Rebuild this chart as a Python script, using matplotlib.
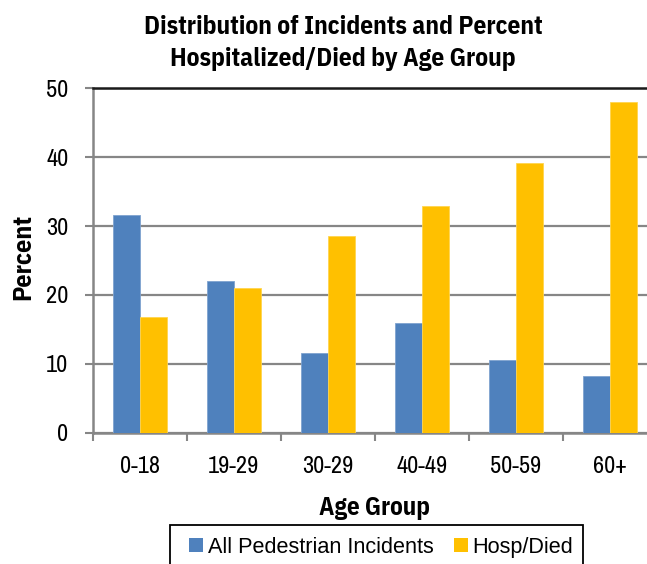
import matplotlib
matplotlib.use("Agg")
import matplotlib.pyplot as plt
from matplotlib.patches import Patch, Rectangle

NARROW = ["Archivo Narrow", "Liberation Sans", "DejaVu Sans"]
NARROW_BOLD = ["IBM Plex Sans Condensed", "Liberation Sans", "DejaVu Sans"]
PLAIN = ["Liberation Sans", "DejaVu Sans"]
plt.rcParams["font.family"] = NARROW

age_groups = ["0-18", "19-29", "30-29", "40-49", "50-59", "60+"]
all_incidents = [31.6, 22.0, 11.5, 15.9, 10.5, 8.2]
hosp_died = [16.8, 21.0, 28.6, 32.9, 39.1, 48.0]
series_names = ["All Pedestrian Incidents", "Hosp/Died"]
y_ticks = [0, 10, 20, 30, 40, 50]
title_lines = ["Distribution of Incidents and Percent", "Hospitalized/Died by Age Group"]

blue = "#4F81BD"
gold = "#FFC000"
grid_gray = "#868686"

W, H = 647, 564
fig = plt.figure(figsize=(W / 100, H / 100), dpi=100)


def fx(px):
    return px / W


def fy(py):
    return 1 - py / H


# plot area (runs a little past the right edge of the canvas)
left, right, top, bottom = 92.7, 656.7, 88.3, 432.7
ax = fig.add_axes([fx(left), fy(bottom), (right - left) / W, (bottom - top) / H])

x = list(range(len(age_groups)))
w = 0.287
ax.bar([i - w / 2 for i in x], all_incidents, width=w, color=blue,
       edgecolor="#7FA3CF", linewidth=0.6, zorder=3)
ax.bar([i + w / 2 for i in x], hosp_died, width=w, color=gold,
       edgecolor="#FFD54F", linewidth=0.6, zorder=3)

ax.set_xlim(-0.5, len(age_groups) - 0.5)
ax.set_ylim(0, 50)
ax.set_yticks(y_ticks)
ax.set_yticklabels([str(v) for v in y_ticks], fontsize=17.5)
ax.set_xticks(x)
ax.set_xticklabels(age_groups, fontsize=17.5)
ax.set_xticks([i - 0.5 for i in range(len(age_groups) + 1)], minor=True)

ax.tick_params(axis="x", which="major", length=0, pad=17)
ax.tick_params(axis="x", which="minor", length=5.5, width=1.5, color=grid_gray, direction="out")
ax.tick_params(axis="y", which="major", length=5.5, width=1.5, color=grid_gray,
               direction="out", pad=12)

ax.grid(axis="y", color=grid_gray, linewidth=1.6, zorder=0)
ax.set_axisbelow(True)
for s in ["left", "bottom"]:
    ax.spines[s].set_color(grid_gray)
    ax.spines[s].set_linewidth(1.8)
ax.spines["right"].set_visible(False)
ax.spines["top"].set_color("#1a1a1a")
ax.spines["top"].set_linewidth(1.8)

ax.set_ylabel("Percent", fontsize=18.7, fontweight="bold", family=NARROW_BOLD)
ax.yaxis.set_label_coords((35 - left) / (right - left), 0.51)
ax.set_xlabel("Age Group", fontsize=18, fontweight="bold", family=NARROW_BOLD,
              va="baseline")
ax.xaxis.set_label_coords(0.5, -(515 - bottom) / (bottom - top))

for line, base in zip(title_lines, [34, 66]):
    fig.text(fx(343), fy(base), line, ha="center", va="baseline",
             fontsize=18.3, fontweight="bold", family=NARROW_BOLD)

# legend box, open at the bottom of the canvas
fig.add_artist(Rectangle((fx(170), fy(575)), fx(583) - fx(170), fy(525) - fy(575),
                         transform=fig.transFigure, facecolor="none",
                         edgecolor="black", linewidth=1.3))

handles = [Patch(facecolor=blue, edgecolor="none"), Patch(facecolor=gold, edgecolor="none")]
leg = fig.legend(handles, series_names, loc="upper left",
                 bbox_to_anchor=(fx(189), fy(537)), prop={"size": 15.6, "family": PLAIN},
                 ncol=2, frameon=False, handlelength=0.645, handleheight=0.6,
                 handletextpad=0.23, columnspacing=0.92, borderpad=0, borderaxespad=0)

fig.savefig("out.png", dpi=100)
